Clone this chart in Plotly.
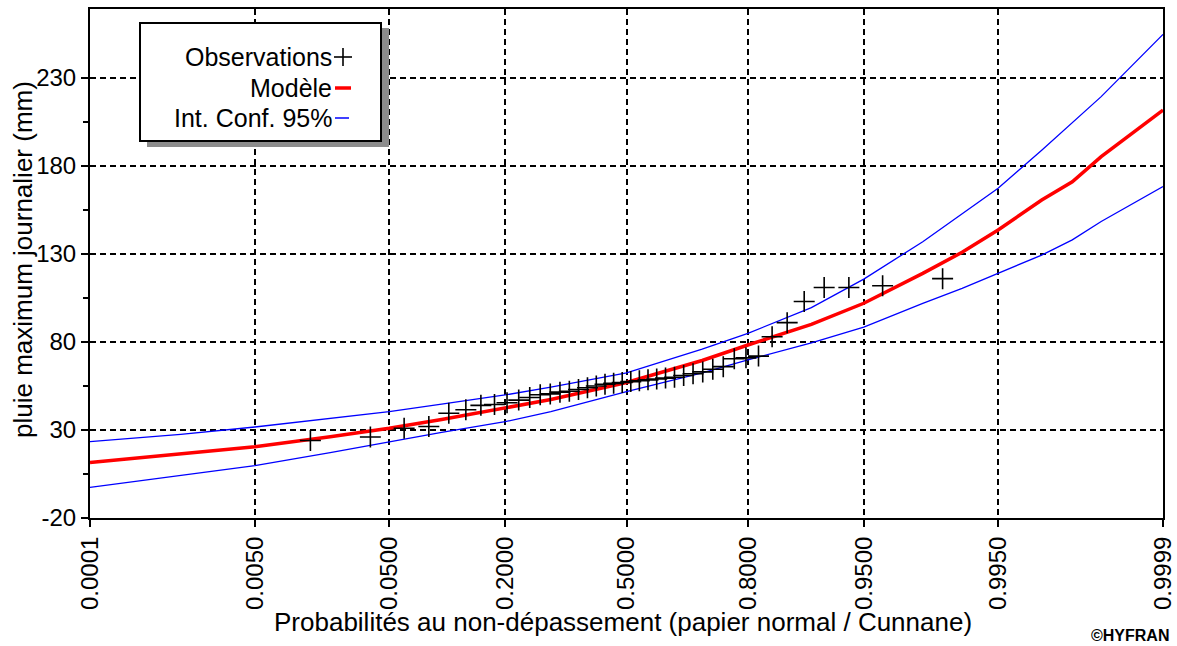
from statistics import NormalDist
import plotly.graph_objects as go

# ---- data -------------------------------------------------------------
# x axis: non-exceedance probability on normal probability paper
tick_probs = [0.0001, 0.005, 0.05, 0.2, 0.5, 0.8, 0.95, 0.995, 0.9999]
tick_labels = ["0.0001", "0.0050", "0.0500", "0.2000", "0.5000",
               "0.8000", "0.9500", "0.9950", "0.9999"]

y_ticks = [-20, 30, 80, 130, 180, 230]
y_tick_labels = ["-20", "30", "80", "130", "180", "230"]
y_minor = [5, 55, 105, 155, 205]

# sorted annual maximum daily rainfall (mm)
obs_mm = [24, 26, 31, 32, 39.5, 41.5, 44, 44.5, 45.5, 47, 48.5, 50, 50.5,
          51.5, 52, 53, 54, 55, 56, 56.5, 57, 57.5, 58, 58.5, 59, 59.5, 60,
          61, 62, 63, 64.5, 66, 70.5, 71, 72, 83, 91, 103, 111, 111, 112, 116]

# fitted model and 95 % confidence band
curve_probs = [0.0001, 0.001, 0.005, 0.02, 0.05, 0.1, 0.2, 0.3, 0.5, 0.7,
               0.8, 0.9, 0.95, 0.98, 0.99, 0.995, 0.998, 0.999, 0.9995, 0.9999]
model_mm = [11.5, 16.3, 20.5, 26.2, 31, 36, 42.3, 47.3, 57, 69.5,
            78.3, 90, 102, 119, 131, 143.6, 160.7, 171, 185.3, 211.8]
ci_upper_mm = [23.4, 27.5, 31.7, 36.5, 40.4, 44.7, 49.9, 54.3, 62.5, 76,
               84.9, 99.5, 115.7, 137, 153, 167.3, 189, 204.5, 219.4, 254.8]
ci_lower_mm = [-2.6, 4, 9.7, 17.2, 23.4, 28.6, 34.7, 40.5, 51.8, 62.5,
               69.8, 79.5, 88.4, 102, 110.5, 119, 129.4, 138, 148.5, 168.3]

# ---- scales -----------------------------------------------------------
nd = NormalDist()


def zq(p):
    """Standard normal quantile (probability paper abscissa)."""
    return nd.inv_cdf(p)


n = len(obs_mm)
# Cunnane plotting positions
obs_probs = [(i - 0.4) / (n + 0.2) for i in range(1, n + 1)]

W, H = 1177, 646
ML, MR, MT, MB = 90, 14, 9, 128
PW, PH = W - ML - MR, H - MT - MB


def px_x(px):
    return (px - ML) / PW


def px_y(py):
    return (H - MB - py) / PH


FONT = "Arial, 'Liberation Sans', sans-serif"

fig = go.Figure()

for ys in (ci_upper_mm, ci_lower_mm):
    fig.add_trace(go.Scatter(
        x=[zq(p) for p in curve_probs], y=ys, mode="lines",
        line=dict(color="#0000FF", width=1.3), hoverinfo="skip"))

fig.add_trace(go.Scatter(
    x=[zq(p) for p in curve_probs], y=model_mm, mode="lines",
    line=dict(color="#FF0000", width=3.5)))

fig.add_trace(go.Scatter(
    x=[zq(p) for p in obs_probs], y=obs_mm, mode="markers",
    marker=dict(symbol="cross-thin", size=15,
                line=dict(color="black", width=1.6))))

# ---- legend box (drawn by hand) -------------------------------------
shapes = [
    dict(type="rect", xref="paper", yref="paper",
         x0=px_x(147), x1=px_x(389), y0=px_y(147), y1=px_y(28),
         fillcolor="#8c8c8c", line=dict(width=0), layer="above"),
    dict(type="rect", xref="paper", yref="paper",
         x0=px_x(140), x1=px_x(381), y0=px_y(141), y1=px_y(23),
         fillcolor="white", line=dict(color="black", width=2), layer="above"),
    # "+" symbol
    dict(type="line", xref="paper", yref="paper",
         x0=px_x(334), x1=px_x(352), y0=px_y(57), y1=px_y(57),
         line=dict(color="black", width=1.6), layer="above"),
    dict(type="line", xref="paper", yref="paper",
         x0=px_x(343), x1=px_x(343), y0=px_y(48), y1=px_y(66),
         line=dict(color="black", width=1.6), layer="above"),
    # model dash
    dict(type="line", xref="paper", yref="paper",
         x0=px_x(335), x1=px_x(351), y0=px_y(88), y1=px_y(88),
         line=dict(color="#FF0000", width=3.5), layer="above"),
    # confidence dash
    dict(type="line", xref="paper", yref="paper",
         x0=px_x(335), x1=px_x(349), y0=px_y(118), y1=px_y(118),
         line=dict(color="#0000FF", width=1.5), layer="above"),
]

legend_rows = [("Observations", 57), ("Modèle", 88), ("Int. Conf. 95%", 118)]
annotations = [
    dict(text=t, xref="paper", yref="paper", x=px_x(334), y=px_y(py),
         xanchor="right", yanchor="middle", showarrow=False,
         font=dict(family=FONT, size=25, color="black"))
    for t, py in legend_rows
]

annotations += [
    dict(text="Probabilités au non-dépassement (papier normal / Cunnane)",
         xref="paper", yref="paper", x=px_x(623), y=px_y(622),
         xanchor="center", yanchor="middle", showarrow=False,
         font=dict(family=FONT, size=26, color="black")),
    dict(text="pluie maximum journalier (mm)",
         xref="paper", yref="paper", x=px_x(23), y=px_y(260),
         xanchor="center", yanchor="middle", textangle=-90, showarrow=False,
         font=dict(family=FONT, size=26, color="black")),
    dict(text="<b>©HYFRAN</b>",
         xref="paper", yref="paper", x=px_x(1171), y=px_y(635),
         xanchor="right", yanchor="middle", showarrow=False,
         font=dict(family=FONT, size=16, color="black")),
]

fig.update_layout(
    width=W, height=H, autosize=False,
    margin=dict(l=ML, r=MR, t=MT, b=MB, pad=0, autoexpand=False),
    paper_bgcolor="white", plot_bgcolor="white",
    showlegend=False,
    shapes=shapes, annotations=annotations,
    font=dict(family=FONT, size=24, color="black"),
)

fig.update_xaxes(
    range=[zq(tick_probs[0]), zq(tick_probs[-1])], automargin=False,
    tickmode="array", tickvals=[zq(p) for p in tick_probs], ticktext=tick_labels,
    tickangle=-90, ticks="outside", ticklen=7, tickwidth=2, tickcolor="black",
    tickfont=dict(family=FONT, size=24, color="black"),
    showline=True, linecolor="black", linewidth=2, mirror=True,
    showgrid=True, gridcolor="black", gridwidth=1.6, griddash="6px,4px",
    zeroline=False,
)

fig.update_yaxes(
    range=[-20, 269.2], automargin=False,
    tickmode="array", tickvals=y_ticks, ticktext=y_tick_labels,
    ticks="outside", ticklen=7, tickwidth=2, tickcolor="black",
    tickfont=dict(family=FONT, size=24, color="black"),
    minor=dict(tickmode="array", tickvals=y_minor, ticks="outside",
               ticklen=5, tickwidth=2, tickcolor="black", showgrid=False),
    showline=True, linecolor="black", linewidth=2, mirror=True,
    showgrid=True, gridcolor="black", gridwidth=1.6, griddash="6px,4px",
    zeroline=False,
)

fig.write_html("out.html")
